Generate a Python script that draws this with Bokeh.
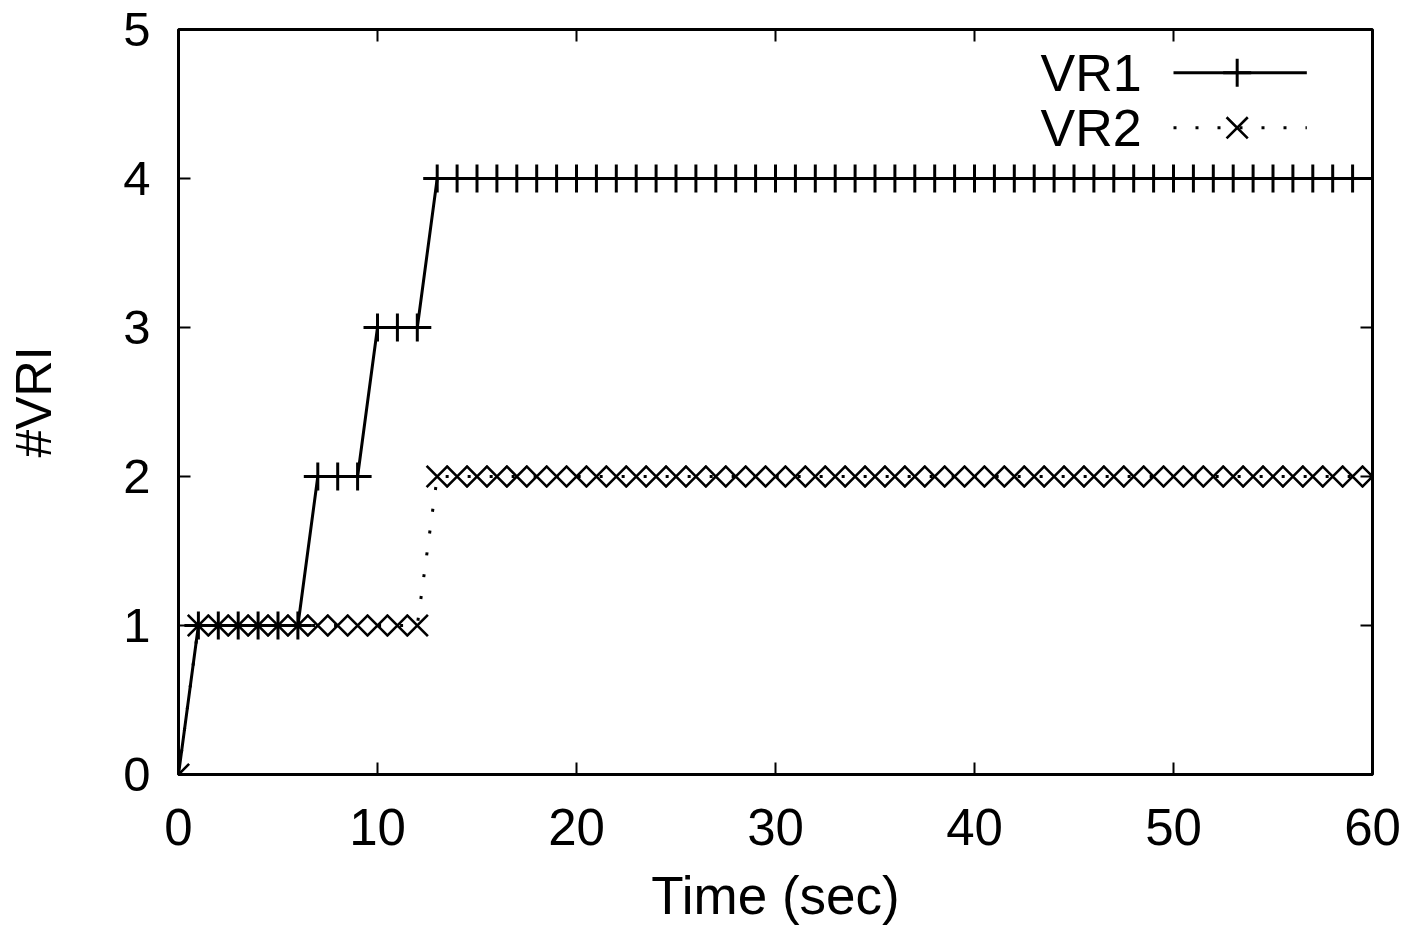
import math
from bokeh.plotting import figure
from bokeh.models import Range1d, FixedTicker
from bokeh.embed import file_html
from bokeh.resources import INLINE
from bokeh.core.properties import value

# ---- data ----
time_sec = [0, 1, 2, 3, 4, 5, 6, 7, 8, 9, 10, 11, 12, 13, 14, 15, 16, 17, 18, 19, 20,
            21, 22, 23, 24, 25, 26, 27, 28, 29, 30, 31, 32, 33, 34, 35, 36, 37, 38, 39, 40,
            41, 42, 43, 44, 45, 46, 47, 48, 49, 50, 51, 52, 53, 54, 55, 56, 57, 58, 59, 60]
vr1 = [0, 1, 1, 1, 1, 1, 1, 2, 2, 2, 3, 3, 3, 4, 4, 4, 4, 4, 4, 4, 4,
       4, 4, 4, 4, 4, 4, 4, 4, 4, 4, 4, 4, 4, 4, 4, 4, 4, 4, 4, 4,
       4, 4, 4, 4, 4, 4, 4, 4, 4, 4, 4, 4, 4, 4, 4, 4, 4, 4, 4, 4]
vr2 = [0, 1, 1, 1, 1, 1, 1, 1, 1, 1, 1, 1, 1, 2, 2, 2, 2, 2, 2, 2, 2,
       2, 2, 2, 2, 2, 2, 2, 2, 2, 2, 2, 2, 2, 2, 2, 2, 2, 2, 2, 2,
       2, 2, 2, 2, 2, 2, 2, 2, 2, 2, 2, 2, 2, 2, 2, 2, 2, 2, 2, 2]
series_names = ["VR1", "VR2"]
x_ticks = [0, 10, 20, 30, 40, 50, 60]
y_ticks = [0, 1, 2, 3, 4, 5]
x_label = "Time (sec)"
y_label = "#VRI"

FONT = "Liberation Sans"
LW = 3
X_MIN, X_MAX, Y_MIN, Y_MAX = 0, 60, 0, 5

p = figure(width=1407, height=927, output_backend="svg", toolbar_location=None,
           x_range=Range1d(X_MIN, X_MAX), y_range=Range1d(Y_MIN, Y_MAX),
           min_border_left=178, min_border_right=35, min_border_top=29, min_border_bottom=151,
           x_axis_label=x_label, y_axis_label=y_label)
p.background_fill_color = "white"
p.border_fill_color = "white"
p.grid.visible = False
p.outline_line_color = "black"
p.outline_line_width = LW

for ax in (p.xaxis[0], p.yaxis[0]):
    ax.major_tick_in = 12
    ax.major_tick_out = 0
    ax.minor_tick_line_color = None
    ax.major_tick_line_width = 2
    ax.axis_line_width = LW
    ax.major_label_text_font = FONT
    ax.major_label_text_color = "black"
    ax.axis_label_text_font = FONT
    ax.axis_label_text_font_style = "normal"
    ax.axis_label_text_color = "black"

p.xaxis[0].major_label_text_font_size = "51px"
p.yaxis[0].major_label_text_font_size = "49px"
p.xaxis[0].axis_label_text_font_size = "53px"
p.yaxis[0].axis_label_text_font_size = "50px"
p.xaxis[0].ticker = FixedTicker(ticks=x_ticks)
p.yaxis[0].ticker = FixedTicker(ticks=y_ticks)
p.xaxis[0].major_label_standoff = 34
p.xaxis[0].axis_label_standoff = 18
p.yaxis[0].major_label_standoff = 28
p.yaxis[0].axis_label_standoff = 58

# mirrored inward ticks on the top and right edges (clipped to the frame)
p.scatter(x_ticks, [Y_MAX] * len(x_ticks), marker="dash", angle=math.pi / 2, size=24,
          line_color="black", line_width=2)
p.scatter([X_MAX] * len(y_ticks), y_ticks, marker="dash", size=24,
          line_color="black", line_width=2)

# series
p.line(time_sec, vr1, line_color="black", line_width=LW)
p.scatter(time_sec, vr1, marker="cross", size=28, line_color="black", line_width=LW)
p.line(time_sec, vr2, line_color="black", line_width=LW, line_dash="3 19")
p.scatter(time_sec, vr2, marker="x", size=30, line_color="black", line_width=2.6)

# legend (label left, sample right, no box)
leg_y = [4.71, 4.34]
leg_text_x = 48.4
leg_x0, leg_x1, leg_xm = 50.0, 56.7, 53.2
for name, ly in zip(series_names, leg_y):
    p.text(x=[leg_text_x], y=[ly], text=[name], text_align="right", text_baseline="middle",
           text_font=value(FONT), text_font_size="52px", text_color="black")
p.line([leg_x0, leg_x1], [leg_y[0], leg_y[0]], line_color="black", line_width=LW)
p.scatter([leg_xm], [leg_y[0]], marker="cross", size=28, line_color="black", line_width=LW)
p.line([leg_x0, leg_x1], [leg_y[1], leg_y[1]], line_color="black", line_width=LW, line_dash="3 19")
p.scatter([leg_xm], [leg_y[1]], marker="x", size=30, line_color="black", line_width=2.6)

open("out.html", "w").write(file_html(p, INLINE))
